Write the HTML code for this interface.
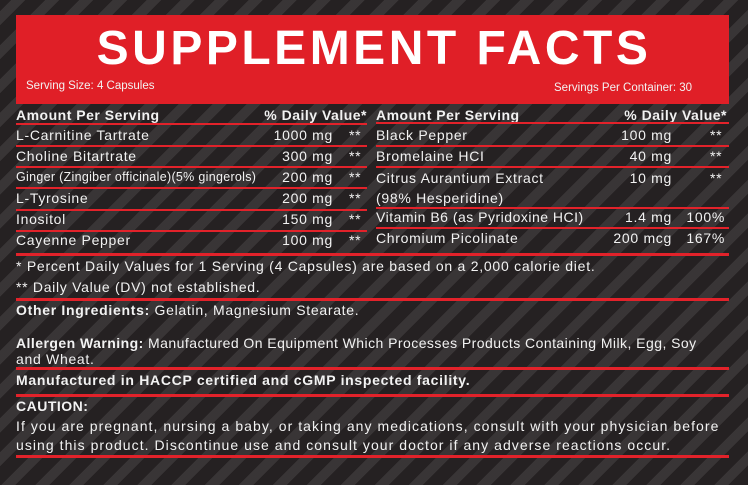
<!DOCTYPE html>
<html><head><meta charset="utf-8"><style>
body{margin:0;width:748px;height:485px;overflow:hidden;background:#252122;
background-image:repeating-linear-gradient(-45deg,rgba(255,255,255,0) 0 14px,rgba(255,255,255,0.09) 14px 24px);
font-family:"Liberation Sans",sans-serif;color:#f2f2f2;position:relative}
.a{position:absolute;white-space:nowrap;font-size:14px;line-height:16px;letter-spacing:0.7px}
.b{font-weight:bold;letter-spacing:0.5px}
.l{position:absolute;background:#e2222a}
.red{position:absolute;left:16px;top:15px;width:713px;height:89px;background:#e01f27}
.t{position:absolute;left:0;width:748px;top:23px;text-align:center;font-weight:bold;font-size:48px;letter-spacing:3.5px;color:#fff;line-height:52px}
.r{text-align:right}
</style></head><body>
<div class="red"></div>
<div class="t">SUPPLEMENT FACTS</div>
<div class="a" style="left:26px;top:78px;font-size:11.5px;letter-spacing:0">Serving Size: 4 Capsules</div>
<div class="a" style="left:554px;top:80px;font-size:11.5px;letter-spacing:0">Servings Per Container: 30</div>

<!-- left table -->
<div class="a b" style="left:16px;top:107px">Amount Per Serving</div>
<div class="a b r" style="right:381px;top:107px">% Daily Value*</div>
<div class="l" style="left:16px;top:123px;width:351px;height:2px"></div>
<div class="a" style="left:16px;top:127px">L-Carnitine Tartrate</div><div class="a r" style="right:415px;top:127px">1000 mg</div><div class="a" style="left:349px;top:127px">**</div>
<div class="l" style="left:16px;top:145px;width:351px;height:2px"></div>
<div class="a" style="left:16px;top:148px">Choline Bitartrate</div><div class="a r" style="right:415px;top:148px">300 mg</div><div class="a" style="left:349px;top:148px">**</div>
<div class="l" style="left:16px;top:166px;width:351px;height:2px"></div>
<div class="a" style="left:16px;top:169px;font-size:12.5px;letter-spacing:0.3px">Ginger (Zingiber officinale)(5% gingerols)</div><div class="a r" style="right:415px;top:169px">200 mg</div><div class="a" style="left:349px;top:169px">**</div>
<div class="l" style="left:16px;top:187px;width:351px;height:2px"></div>
<div class="a" style="left:16px;top:190px">L-Tyrosine</div><div class="a r" style="right:415px;top:190px">200 mg</div><div class="a" style="left:349px;top:190px">**</div>
<div class="l" style="left:16px;top:209px;width:351px;height:2px"></div>
<div class="a" style="left:16px;top:211px">Inositol</div><div class="a r" style="right:415px;top:211px">150 mg</div><div class="a" style="left:349px;top:211px">**</div>
<div class="l" style="left:16px;top:230px;width:351px;height:2px"></div>
<div class="a" style="left:16px;top:232px">Cayenne Pepper</div><div class="a r" style="right:415px;top:232px">100 mg</div><div class="a" style="left:349px;top:232px">**</div>

<!-- right table -->
<div class="a b" style="left:376px;top:107px">Amount Per Serving</div>
<div class="a b r" style="right:21px;top:107px">% Daily Value*</div>
<div class="l" style="left:376px;top:122px;width:353px;height:2px"></div>
<div class="a" style="left:376px;top:127px">Black Pepper</div><div class="a r" style="right:76px;top:127px">100 mg</div><div class="a" style="left:710px;top:127px">**</div>
<div class="l" style="left:376px;top:145px;width:353px;height:2px"></div>
<div class="a" style="left:376px;top:148px">Bromelaine HCI</div><div class="a r" style="right:76px;top:148px">40 mg</div><div class="a" style="left:710px;top:148px">**</div>
<div class="l" style="left:376px;top:166px;width:353px;height:2px"></div>
<div class="a" style="left:376px;top:170px">Citrus Aurantium Extract</div><div class="a r" style="right:76px;top:170px">10 mg</div><div class="a" style="left:710px;top:170px">**</div>
<div class="a" style="left:376px;top:190px">(98% Hesperidine)</div>
<div class="l" style="left:376px;top:207px;width:353px;height:2px"></div>
<div class="a" style="left:376px;top:209px;letter-spacing:0.5px">Vitamin B6 (as Pyridoxine HCI)</div><div class="a r" style="right:76px;top:209px">1.4 mg</div><div class="a r" style="right:23px;top:209px">100%</div>
<div class="l" style="left:376px;top:227px;width:353px;height:2px"></div>
<div class="a" style="left:376px;top:230px">Chromium Picolinate</div><div class="a r" style="right:76px;top:230px">200 mcg</div><div class="a r" style="right:23px;top:230px">167%</div>

<div class="l" style="left:16px;top:253px;width:713px;height:3px"></div>
<div class="a" style="left:16px;top:258px;letter-spacing:0.75px">* Percent Daily Values for 1 Serving (4 Capsules) are based on a 2,000 calorie diet.</div>
<div class="a" style="left:16px;top:279px">** Daily Value (DV) not established.</div>
<div class="l" style="left:16px;top:298px;width:713px;height:3px"></div>
<div class="a" style="left:16px;top:302px"><b>Other Ingredients:</b> Gelatin, Magnesium Stearate.</div>
<div class="a" style="left:16px;top:335px;letter-spacing:0.45px"><b>Allergen Warning:</b> Manufactured On Equipment Which Processes Products Containing Milk, Egg, Soy</div>
<div class="a" style="left:16px;top:351px">and Wheat.</div>
<div class="l" style="left:16px;top:367px;width:713px;height:3px"></div>
<div class="a b" style="left:16px;top:372px;letter-spacing:0.7px">Manufactured in HACCP certified and cGMP inspected facility.</div>
<div class="l" style="left:16px;top:394px;width:713px;height:3px"></div>
<div class="a b" style="left:16px;top:398px">CAUTION:</div>
<div class="a" style="left:16px;top:418px;letter-spacing:1.05px">If you are pregnant, nursing a baby, or taking any medications, consult with your physician before</div>
<div class="a" style="left:16px;top:437px;letter-spacing:1.05px">using this product. Discontinue use and consult your doctor if any adverse reactions occur.</div>
<div class="l" style="left:16px;top:455px;width:713px;height:3px"></div>
</body></html>
